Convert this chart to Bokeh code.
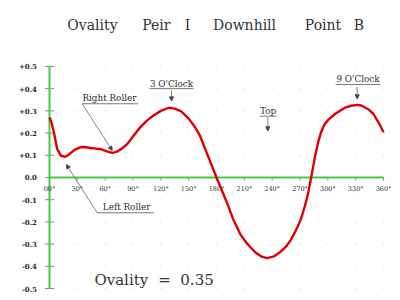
from bokeh.plotting import figure
from bokeh.models import Range1d, Arrow, NormalHead
from bokeh.core.properties import value
from bokeh.embed import file_html
from bokeh.resources import INLINE

# ---- data ----
degrees = [0, 2, 4.7, 8.3, 12, 16.5, 20, 24, 28, 33, 38, 44, 50, 56, 62, 67.5, 72, 78, 84,
           91, 98, 105, 112, 120, 128.6, 135, 142, 150, 156, 162, 170, 180, 190, 198.6, 206,
           213, 216.6, 222, 228, 234.6, 242, 248, 254.4, 260, 265, 268, 270.5, 273, 276, 279,
           282, 284.2, 286.7, 289.5, 292.8, 296, 300, 308, 318, 325, 331.6, 336, 344, 349,
           355, 360]
ovality = [0.27, 0.25, 0.204, 0.129, 0.099, 0.093, 0.100, 0.114, 0.127, 0.136, 0.137, 0.133,
           0.130, 0.127, 0.118, 0.111, 0.115, 0.130, 0.152, 0.190, 0.227, 0.256, 0.279, 0.300,
           0.314, 0.310, 0.298, 0.265, 0.232, 0.190, 0.105, 0.0, -0.100, -0.194, -0.258,
           -0.298, -0.314, -0.338, -0.355, -0.363, -0.355, -0.338, -0.314, -0.282, -0.243,
           -0.216, -0.192, -0.160, -0.118, -0.065, 0.0, 0.050, 0.105, 0.158, 0.205, 0.235,
           0.258, 0.287, 0.313, 0.323, 0.327, 0.324, 0.306, 0.287, 0.245, 0.204]

x_ticks = [0, 30, 60, 90, 120, 150, 180, 210, 240, 270, 300, 330, 360]
x_tick_labels = ["00°", "30°", "60°", "90°", "120°", "150°", "180°", "210°", "240°",
                 "270°", "300°", "330°", "360°"]
y_ticks = [0.5, 0.4, 0.3, 0.2, 0.1, 0.0, -0.1, -0.2, -0.3, -0.4, -0.5]
y_tick_labels = ["+0.5", "+0.4", "+0.3", "+0.2", "+0.1", "0.0", "-0.1", "-0.2", "-0.3",
                 "-0.4", "-0.5"]

title_words = ["Ovality", "Peir", "I", "Downhill", "Point", "B"]
ovality_value = "0.35"

# ---- figure ----
p = figure(width=400, height=300, output_backend="svg", toolbar_location=None,
           x_axis_type=None, y_axis_type=None, min_border=0,
           x_range=Range1d(-52.8, 378.3), y_range=Range1d(-0.554, 0.797))
p.outline_line_color = None
p.grid.visible = False
p.background_fill_color = "white"
p.border_fill_color = "white"

SERIF = value("DejaVu Serif")
INK = "#2a2a2a"

# faint dotted grid
gx, gy = [], []
for xv in x_ticks[1:]:
    for yv in y_ticks:
        gx.append(xv)
        gy.append(yv)
p.scatter(gx, gy, size=2, color="#ececec", line_color=None)

# ticks
p.segment(x0=[-5] * len(y_ticks), x1=[5] * len(y_ticks), y0=y_ticks, y1=y_ticks,
          line_color="#8a8a8a", line_width=1)
p.segment(x0=x_ticks[1:], x1=x_ticks[1:], y0=[0] * 12, y1=[-0.014] * 12,
          line_color="#8a8a8a", line_width=1)

# green axes
p.segment(x0=[0], x1=[0], y0=[min(y_ticks)], y1=[max(y_ticks)], line_color="#44cc44", line_width=2)
p.segment(x0=[0], x1=[360], y0=[0], y1=[0], line_color="#44cc44", line_width=2)

# tick labels
p.text(x=[-13.5] * len(y_ticks), y=y_ticks, text=y_tick_labels, text_font=SERIF,
       text_font_size="7px", text_font_style="bold", text_align="right",
       text_baseline="middle", text_color=INK)
p.text(x=x_ticks, y=[-0.051] * len(x_ticks), text=x_tick_labels, text_font=SERIF,
       text_font_size="6.5px", text_align="center", text_baseline="middle", text_color=INK)

# curve
p.line(degrees, ovality, line_color="#e00000", line_width=2.4, line_join="round")

# title words
title_x = [46.3, 115.1, 148.7, 210.2, 294.8, 333.4]
p.text(x=title_x, y=[0.685] * 6, text=title_words, text_font=SERIF, text_font_size="14px",
       text_align="center", text_baseline="middle", text_color="#333333")

# ovality text
p.text(x=[77.4, 124, 159], y=[-0.461] * 3, text=["Ovality", "=", ovality_value],
       text_font=SERIF, text_font_size="15px", text_align="center",
       text_baseline="middle", text_color="#333333")

# annotations
ann_font = "8.8px"
labels = [("3 O'Clock", 131.5, 0.423), ("9 O'Clock", 332.5, 0.445), ("Top", 235.5, 0.300)]
for t, xv, yv in labels:
    p.text(x=[xv], y=[yv], text=[t], text_font=SERIF, text_font_size=ann_font,
           text_align="center", text_baseline="middle", text_color=INK)

p.text(x=[35.5], y=[0.356], text=["Right Roller"], text_font=SERIF, text_font_size=ann_font,
       text_align="left", text_baseline="middle", text_color=INK)
p.text(x=[57.5], y=[-0.135], text=["Left Roller"], text_font=SERIF, text_font_size=ann_font,
       text_align="left", text_baseline="middle", text_color=INK)

# underlines
p.segment(x0=[107.8, 308.3, 226.6, 35.2, 51.4], x1=[155.2, 356.8, 244.6, 95.6, 112.4],
          y0=[0.400, 0.419, 0.276, 0.332, -0.159], y1=[0.400, 0.419, 0.276, 0.332, -0.159],
          line_color="#777777", line_width=1)

# arrows
arrows = [(131.5, 0.392, 131.5, 0.345), (331.6, 0.410, 331.6, 0.354),
          (235.3, 0.270, 235.3, 0.210), (35.2, 0.332, 67.6, 0.122),
          (51.4, -0.159, 18.3, 0.058)]
for xs, ys, xe, ye in arrows:
    p.add_layout(Arrow(end=NormalHead(size=4, fill_color="#444444", line_color="#444444"),
                       x_start=xs, y_start=ys, x_end=xe, y_end=ye,
                       line_color="#666666", line_width=0.8))

open("out.html", "w").write(file_html(p, INLINE))
